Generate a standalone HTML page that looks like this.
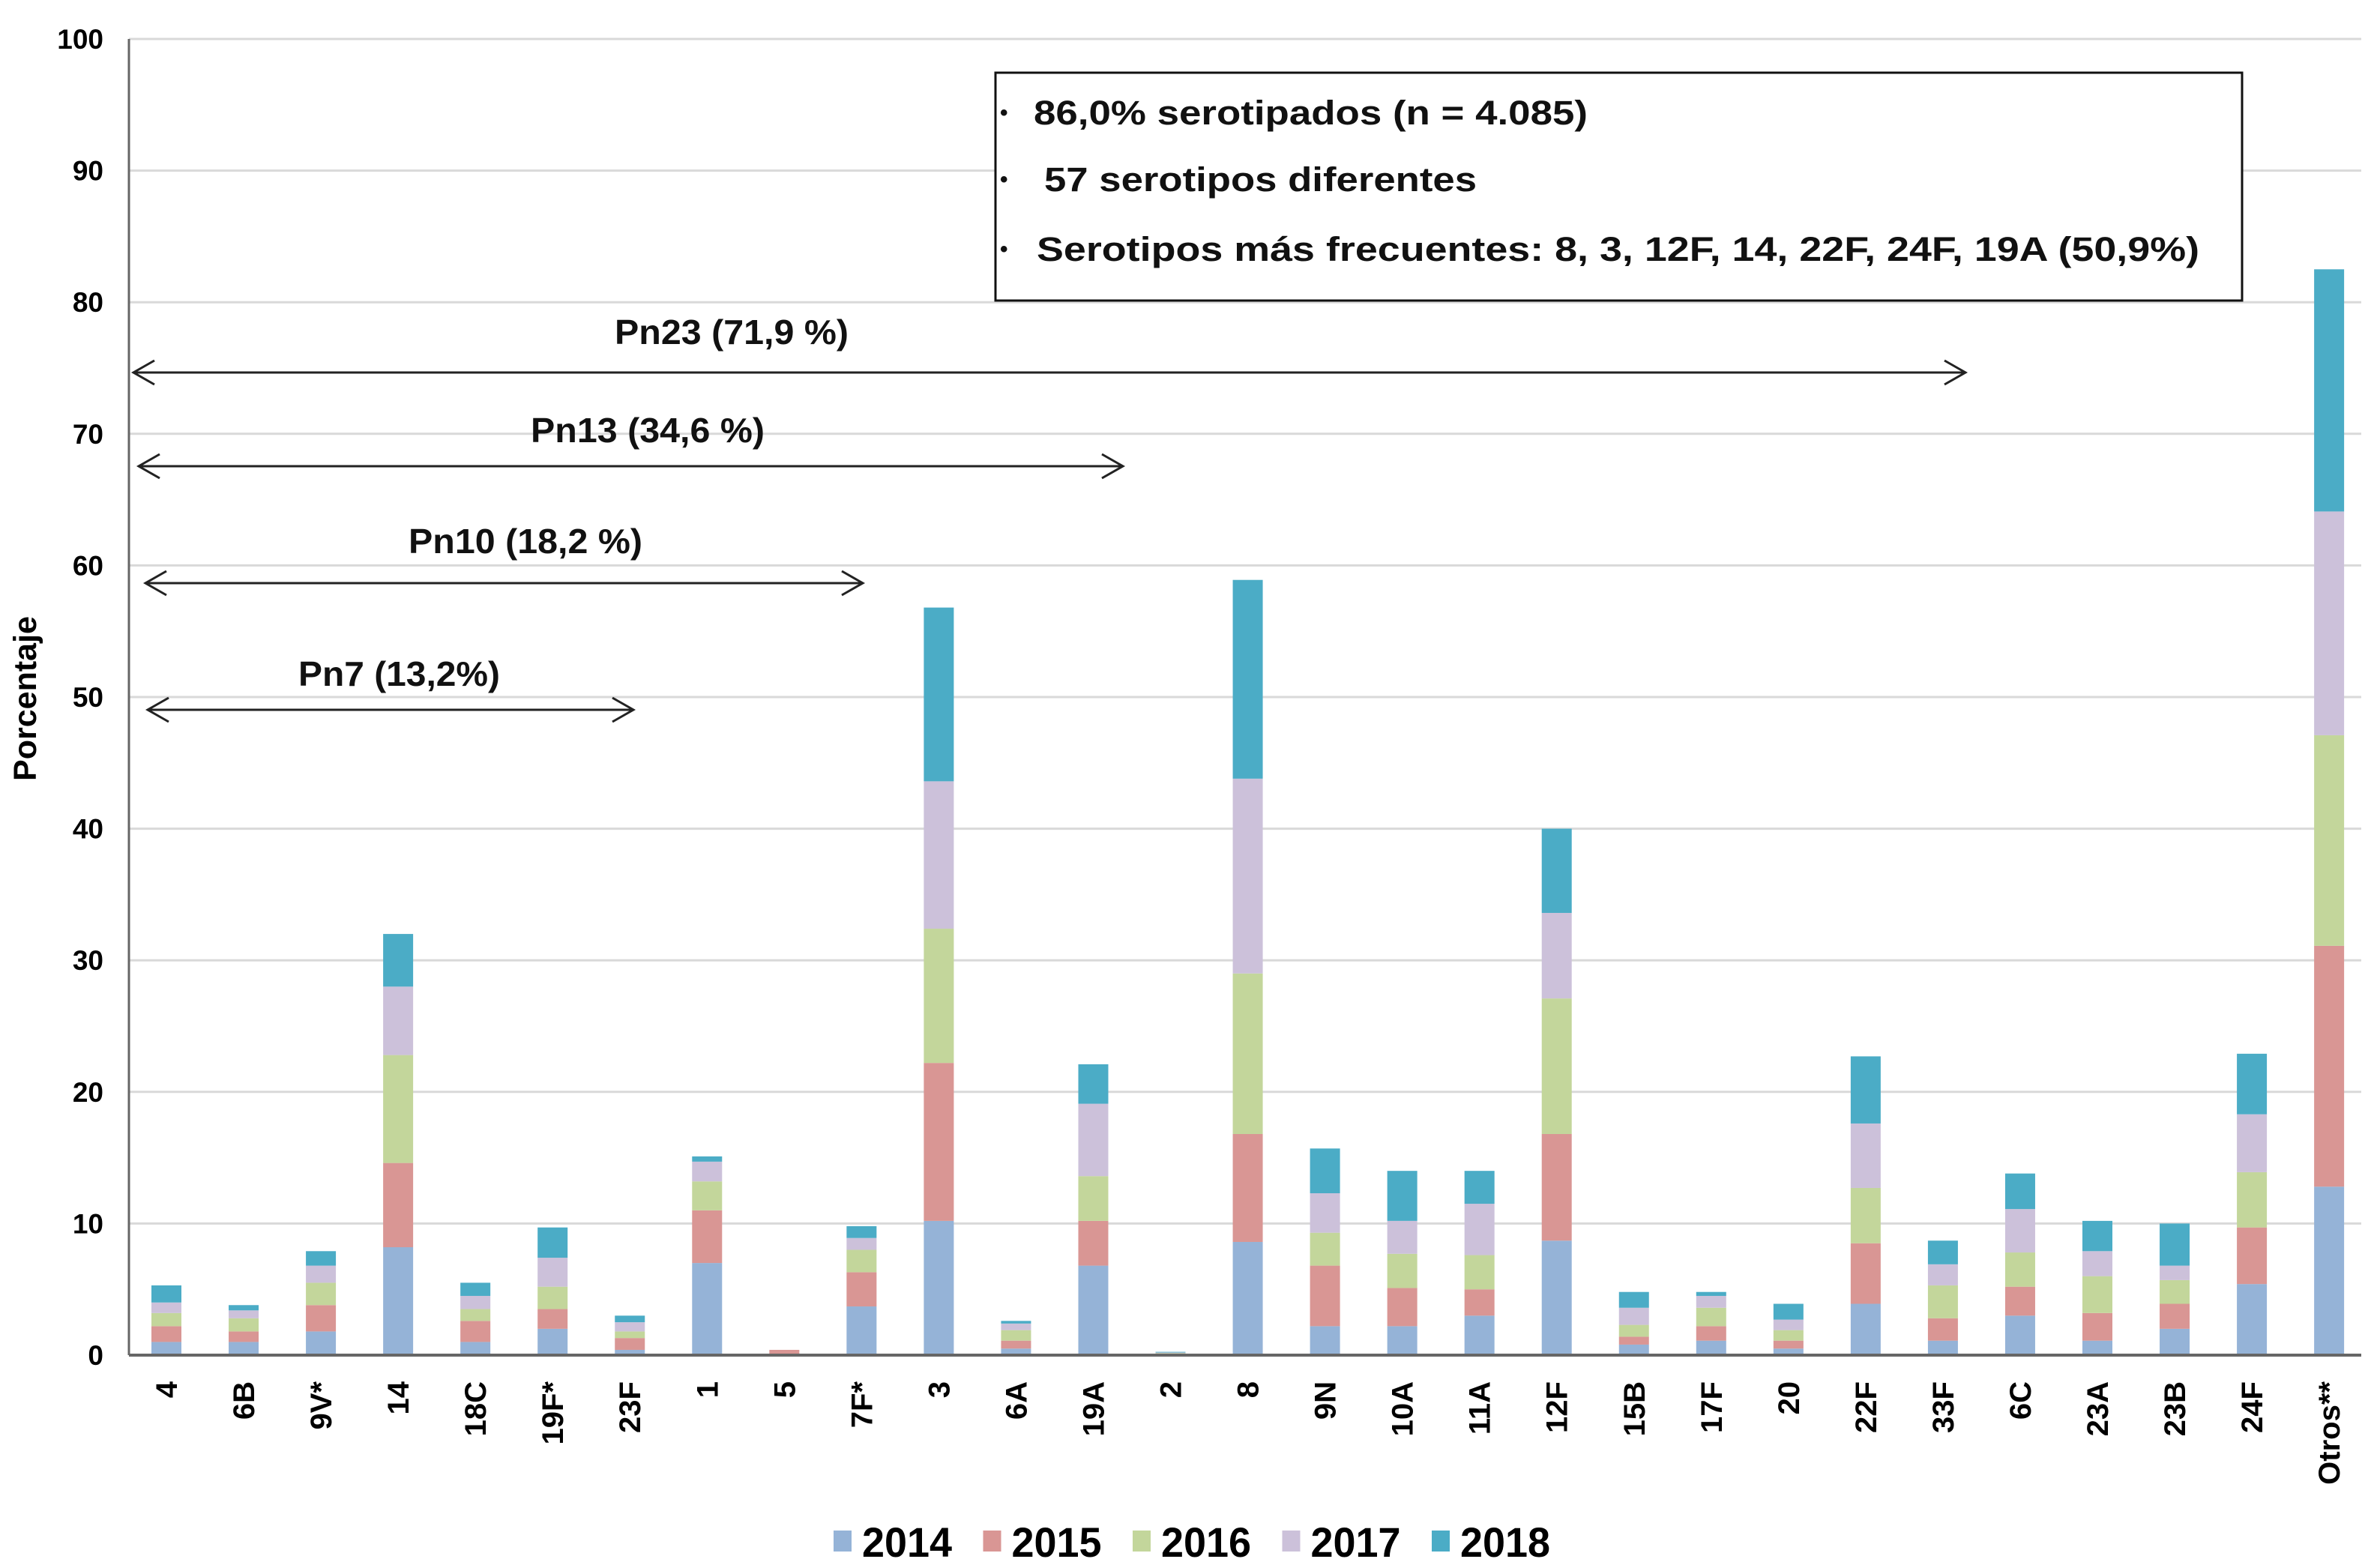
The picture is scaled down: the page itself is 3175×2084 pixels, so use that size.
<!DOCTYPE html>
<html><head><meta charset="utf-8"><style>
body{margin:0;background:#fff}
svg{display:block;font-family:"Liberation Sans",Arial,sans-serif;font-weight:bold}
</style></head><body>
<svg id="chart" width="3175" height="2084" viewBox="0 0 3175 2084" xmlns="http://www.w3.org/2000/svg">
<g id="grid"></g>
<g id="bars"></g>
<g id="axes"></g>
<text x="0" y="0" font-size="43" transform="translate(48,932) rotate(-90)" text-anchor="middle">Porcentaje</text>
<g stroke="#222" stroke-width="3" fill="none">
<line x1="178" y1="497" x2="2622" y2="497"/>
<polyline points="206,481 178,497 206,513"/>
<polyline points="2594,481 2622,497 2594,513"/>
<line x1="185" y1="622" x2="1498" y2="622"/>
<polyline points="213,606 185,622 213,638"/>
<polyline points="1470,606 1498,622 1470,638"/>
<line x1="194" y1="778" x2="1151" y2="778"/>
<polyline points="222,762 194,778 222,794"/>
<polyline points="1123,762 1151,778 1123,794"/>
<line x1="197" y1="947" x2="845" y2="947"/>
<polyline points="225,931 197,947 225,963"/>
<polyline points="817,931 845,947 817,963"/>
</g>
<g font-size="46" fill="#111">
<text x="820" y="459" textLength="312" lengthAdjust="spacingAndGlyphs">Pn23 (71,9 %)</text>
<text x="708" y="590" textLength="312" lengthAdjust="spacingAndGlyphs">Pn13 (34,6 %)</text>
<text x="545" y="738" textLength="312" lengthAdjust="spacingAndGlyphs">Pn10 (18,2 %)</text>
<text x="398" y="915" textLength="269" lengthAdjust="spacingAndGlyphs">Pn7 (13,2%)</text>
</g>
<g>
<rect x="1328" y="97" width="1663" height="304" fill="#fff" stroke="#111" stroke-width="3"/>
<g font-size="45" fill="#111">
<text x="1334" y="160" font-size="30">•</text>
<text x="1379" y="166" textLength="739" lengthAdjust="spacingAndGlyphs">86,0% serotipados (n = 4.085)</text>
<text x="1334" y="249" font-size="30">•</text>
<text x="1393" y="255" textLength="577" lengthAdjust="spacingAndGlyphs">57 serotipos diferentes</text>
<text x="1334" y="342" font-size="30">•</text>
<text x="1383" y="348" textLength="1551" lengthAdjust="spacingAndGlyphs">Serotipos más frecuentes: 8, 3, 12F, 14, 22F, 24F, 19A (50,9%)</text>
</g>
</g>
<g id="legend"></g>
</svg>
<script>
const categories = ["4","6B","9V*","14","18C","19F*","23F","1","5","7F*","3","6A","19A","2","8","9N","10A","11A","12F","15B","17F","20","22F","33F","6C","23A","23B","24F","Otros**"];
const years = ["2014","2015","2016","2017","2018"];
const v2014 = [1.0,1.0,1.8,8.2,1.0,2.0,0.4,7.0,0.1,3.7,10.2,0.5,6.8,0.05,8.6,2.2,2.2,3.0,8.7,0.8,1.1,0.5,3.9,1.1,3.0,1.1,2.0,5.4,12.8];
const v2015 = [1.2,0.8,2.0,6.4,1.6,1.5,0.9,4.0,0.3,2.6,12.0,0.6,3.4,0.05,8.2,4.6,2.9,2.0,8.1,0.6,1.1,0.6,4.6,1.7,2.2,2.1,1.9,4.3,18.3];
const v2016 = [1.0,1.0,1.7,8.2,0.9,1.7,0.5,2.2,0,1.7,10.2,0.8,3.4,0.05,12.2,2.5,2.6,2.6,10.3,0.9,1.4,0.8,4.2,2.5,2.6,2.8,1.8,4.2,16.0];
const v2017 = [0.8,0.6,1.3,5.2,1.0,2.2,0.7,1.5,0,0.9,11.2,0.5,5.5,0.05,14.8,3.0,2.5,3.9,6.5,1.3,0.9,0.8,4.9,1.6,3.3,1.9,1.1,4.4,17.0];
const v2018 = [1.3,0.4,1.1,4.0,1.0,2.3,0.5,0.4,0,0.9,13.2,0.2,3.0,0.05,15.1,3.4,3.8,2.5,6.4,1.2,0.3,1.2,5.1,1.8,2.7,2.3,3.2,4.6,18.4];
const yTicks = [0,10,20,30,40,50,60,70,80,90,100];
const series = [v2014,v2015,v2016,v2017,v2018];
const colors = ["#95b3d7","#d99694","#c3d69b","#ccc1da","#4bacc6"];
const NS="http://www.w3.org/2000/svg";
const X0=172, X1=3150, Y0=1808, Ytop=52;
const yS = v => Y0 - (Y0-Ytop)*v/100;
const xS = i => 222 + i*103.04;
const BW = 40;
function mk(tag, parent){const e=document.createElementNS(NS,tag);parent.appendChild(e);return e;}
const grid=document.getElementById('grid'), bars=document.getElementById('bars'), axes=document.getElementById('axes'), legend=document.getElementById('legend');
yTicks.forEach(t=>{
  if(t>0){const l=mk('line',grid);
  
  
  l.setAttribute('x1',X0);l.setAttribute('x2',X1);l.setAttribute('y1',yS(t));l.setAttribute('y2',yS(t));
  l.setAttribute('stroke','#d9d9d9');l.setAttribute('stroke-width','3');}
  const tx=mk('text',axes);
  
  
  tx.setAttribute('x',138);tx.setAttribute('y',yS(t)+13);tx.setAttribute('text-anchor','end');tx.setAttribute('font-size','37');
  tx.textContent=t;
});
categories.forEach((c,i)=>{
  let cum=0;
  series.forEach((s,k)=>{
    const v=s[i]; if(v<=0) return;
    const r=mk('rect',bars);
    
    
    r.setAttribute('x',xS(i)-BW/2);r.setAttribute('width',BW);
    r.setAttribute('y',yS(cum+v));r.setAttribute('height',yS(cum)-yS(cum+v));
    r.setAttribute('fill',colors[k]);
    cum+=v;
  });
  const t=mk('text',axes);
  
  
  t.setAttribute('font-size','40');t.setAttribute('text-anchor','end');
  t.setAttribute('transform','translate('+(xS(i)+14)+',1843) rotate(-90)');
  t.textContent=c;
});
const ya=mk('line',axes);


ya.setAttribute('x1',X0);ya.setAttribute('x2',X0);ya.setAttribute('y1',Ytop);ya.setAttribute('y2',Y0);ya.setAttribute('stroke','#666');ya.setAttribute('stroke-width','3');
const xa=mk('line',axes);


xa.setAttribute('x1',X0);xa.setAttribute('x2',X1);xa.setAttribute('y1',Y0);xa.setAttribute('y2',Y0);xa.setAttribute('stroke','#666');xa.setAttribute('stroke-width','4');
years.forEach((y,k)=>{
  const lx=1112+k*199.5;
  const s=mk('rect',legend);
  
  
  s.setAttribute('x',lx);s.setAttribute('y',2042);s.setAttribute('width',24);s.setAttribute('height',28);s.setAttribute('fill',colors[k]);
  const t=mk('text',legend);
  
  
  t.setAttribute('x',lx+38);t.setAttribute('y',2077);t.setAttribute('font-size','56');
  t.setAttribute('textLength','120');t.setAttribute('lengthAdjust','spacingAndGlyphs');
  t.textContent=y;
});
</script>
</body></html>
